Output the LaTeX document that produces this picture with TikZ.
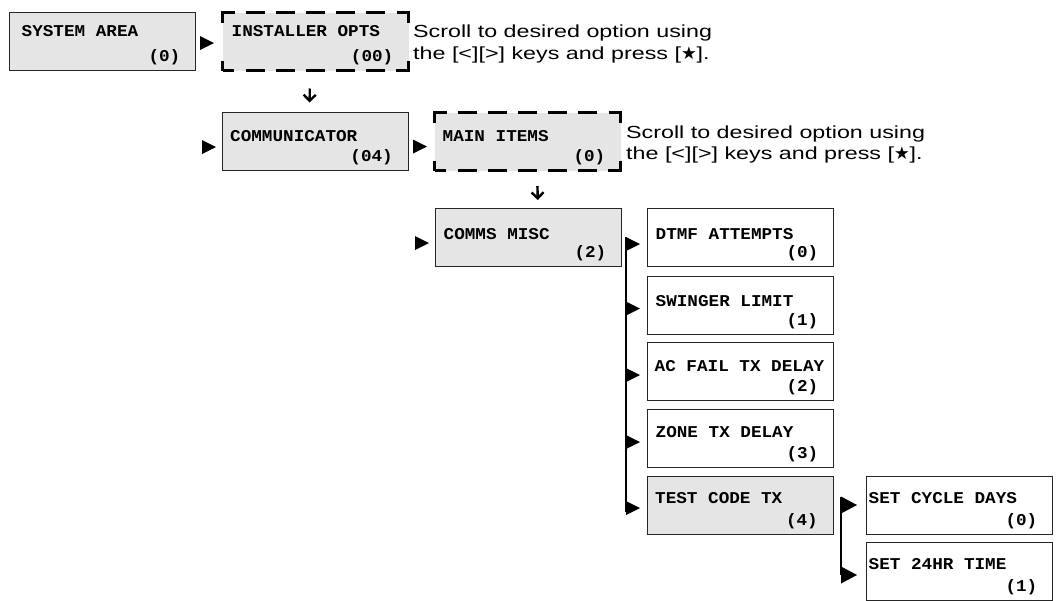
\documentclass[tikz,border=0pt]{standalone}
\usepackage{fontspec}
\setmainfont{Liberation Sans}
\newfontfamily\boxfont[FakeStretch=1.07]{Liberation Mono}
\newfontfamily\notefont[FakeStretch=1.33]{Liberation Sans}
\newfontfamily\symfont{DejaVu Sans}
\usetikzlibrary{arrows.meta,shapes.geometric}
\definecolor{boxgray}{RGB}{229,229,229}
\newcommand{\scrollnote}{Scroll to desired option using\\the [<][>] keys and press [{\symfont ★}].}

\begin{document}
\begin{tikzpicture}[x=1pt,y=-1pt,
    menu/.style = {rectangle,draw=black!85,line width=0.9pt,fill=boxgray,minimum width=186pt,minimum height=58pt,inner sep=0pt,outer sep=0pt},
    plainmenu/.style = {menu,fill=white},
    optmenu/.style = {menu,draw=none},
    title/.style = {font=\boxfont\bfseries\fontsize{16.5}{20}\selectfont,inner sep=0pt,anchor=base west},
    num/.style = {title,anchor=base east},
    tri/.style = {isosceles triangle,isosceles triangle stretches,fill=black,inner sep=0pt,outer sep=0pt,minimum width=14pt,minimum height=14pt,anchor=west},
    bigtri/.style = {tri,minimum width=17pt,minimum height=16pt},
    branch/.style = {line width=1.3pt},
    dashedge/.style = {line width=2.8pt,dash pattern=on 10pt off 38pt on 22pt off 11.17pt on 19pt off 11.17pt on 19pt off 11.17pt on 19pt off 11.17pt on 19pt off 11.17pt on 19pt off 11.17pt on 22pt off 38pt on 22pt off 11.17pt on 19pt off 11.17pt on 19pt off 11.17pt on 19pt off 11.17pt on 19pt off 11.17pt on 19pt off 11.17pt on 12pt},
    down/.style = {line width=2.4pt,-{Straight Barb[length=6pt,width=12pt]}},
    note/.style = {font=\notefont\fontsize{17.5}{21.5}\selectfont,align=left,inner sep=0pt,anchor=north west}]
\useasboundingbox (0,0) rectangle (1057,600);
% menu boxes: name/x/y/title/number/style/title offsets
\foreach \nm/\cx/\cy/\ttl/\nr/\sty/\tx/\ty in {
    sys/102.5/41.5/SYSTEM AREA/0/menu/12/24,
    inst/315.5/41.5/INSTALLER OPTS/00/optmenu/9/24,
    comm/315/141.5/COMMUNICATOR/04/menu/8/29,
    main/527.5/141.5/MAIN ITEMS/0/optmenu/8/29,
    misc/528.5/237/COMMS MISC/2/menu/8/31,
    dtmf/740.5/237.5/DTMF ATTEMPTS/0/plainmenu/8/31,
    swing/740.5/305/SWINGER LIMIT/1/plainmenu/8/30,
    acfail/740.5/371.5/AC FAIL TX DELAY/2/plainmenu/7/29,
    zone/740.5/438.5/ZONE TX DELAY/3/plainmenu/8/28,
    test/740/505.5/TEST CODE TX/4/menu/8/27,
    cycle/959.5/505.5/SET CYCLE DAYS/0/plainmenu/2/27,
    time/959.5/571/SET 24HR TIME/1/plainmenu/2/27}
{
    \node[\sty] (\nm) at (\cx,\cy) {};
    \node[title] (\nm-t) at ([xshift=\tx pt,yshift=-\ty pt]\nm.north west) {\ttl};
    \node[num] (\nm-n) at ([xshift=-15pt,yshift=9pt]\nm.south east) {(\nr)};
}
\foreach \nm in {inst,main}
    \draw[dashedge] (\nm.south west) -- (\nm.north west) -- (\nm.north east) -- (\nm.south east) -- cycle;
% flow markers
\node[tri] (a1) at (200,43) {};
\node[tri] (a2) at (202,147) {};
\node[tri] (a3) at (413,146.5) {};
\node[tri] (a4) at (415,243) {};
\foreach \i/\y in {1/244,2/308.5,3/375,4/442,5/508} \node[tri] (b\i) at (626,\y) {};
\node[bigtri] (c1) at (841,505) {};
\node[bigtri] (c2) at (841,575) {};
\draw[branch] ([yshift=7pt]b1.west) -- ([yshift=-4pt]b5.west);
\draw[branch] ([yshift=8pt]c1.west) -- (c2.west);
\draw[down,shorten <=18pt,shorten >=10pt] ([xshift=-5.5pt]inst.south) -- ([xshift=-5.5pt]comm.north);
\draw[down,shorten <=15.5pt,shorten >=8pt] ([xshift=9.5pt]main.south) -- ([xshift=9.5pt]misc.north);
% notes
\node[note] (n1) at (413,25) {\scrollnote};
\node[note] (n2) at (626,125.5) {\scrollnote};
\end{tikzpicture}
\end{document}
